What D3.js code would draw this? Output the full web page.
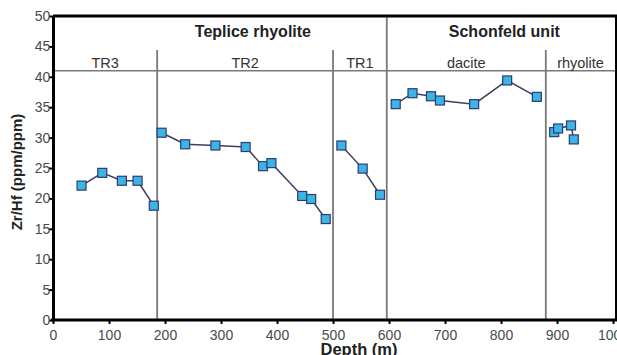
<!DOCTYPE html>
<html>
<head>
<meta charset="utf-8">
<script src="https://cdn.jsdelivr.net/npm/d3@7"></script>
<style>
  html, body { margin: 0; padding: 0; background: #fff; }
  svg { display: block; font-family: "Liberation Sans", Arial, sans-serif; }
</style>
</head>
<body>
<svg id="chart" width="617" height="355"></svg>
<script>
// Zr/Hf ratio vs depth, grouped by unit

const groupTR3 = [[51, 22.1], [88, 24.2], [123, 22.9], [151, 22.9], [180, 18.8]];
const groupTR2 = [[194, 30.8], [236, 28.9], [290, 28.7], [344, 28.45], [375, 25.3],
                  [390, 25.8], [445, 20.4], [461, 19.9], [487, 16.6]];
const groupTR1 = [[515, 28.7], [553, 24.9], [584, 20.6]];
const groupDacite = [[612, 35.5], [642, 37.3], [675, 36.8], [691, 36.1], [752, 35.5],
                     [811, 39.4], [864, 36.7]];
const groupRhyolite = [[895, 30.9], [902, 31.5], [925, 32.0], [930, 29.7]];

const series = [groupTR3, groupTR2, groupTR1, groupDacite, groupRhyolite];

// unit boundaries (depth) and labels
const boundaries = [186, 500, 596, 880];
const subUnits = [
  { label: "TR3", from: 0, to: 186 },
  { label: "TR2", from: 186, to: 500 },
  { label: "TR1", from: 500, to: 596 },
  { label: "dacite", from: 596, to: 880 },
  { label: "rhyolite", from: 880, to: 1004 }
];
const mainUnits = [
  { label: "Teplice rhyolite", at: 357 },
  { label: "Schonfeld unit", at: 806 }
];

const xTicks = [0, 100, 200, 300, 400, 500, 600, 700, 800, 900, 1000];
const yTicks = [0, 5, 10, 15, 20, 25, 30, 35, 40, 45, 50];

const svg = d3.select("#chart");
const pLeft = 53, pRight = 616, pTop = 16, pBottom = 320;

const x = d3.scaleLinear().domain([0, 1000]).range([pLeft, 613]);
const y = d3.scaleLinear().domain([0, 50]).range([pBottom, pTop]);

const grey = "#7d7878";

// header line and separators
svg.append("line")
  .attr("x1", pLeft).attr("x2", pRight)
  .attr("y1", y(41)).attr("y2", y(41))
  .attr("stroke", grey).attr("stroke-width", 1.6);

svg.selectAll("line.sep")
  .data(boundaries)
  .enter().append("line")
    .attr("class", "sep")
    .attr("x1", d => x(d)).attr("x2", d => x(d))
    .attr("y1", d => d === 596 ? pTop : y(44.4))
    .attr("y2", pBottom)
    .attr("stroke", grey)
    .attr("stroke-width", 1.8);

// frame: top + right
svg.append("line")
  .attr("x1", pLeft).attr("x2", pRight + 1)
  .attr("y1", pTop).attr("y2", pTop)
  .attr("stroke", "#000").attr("stroke-width", 3);
svg.append("line")
  .attr("x1", pRight).attr("x2", pRight)
  .attr("y1", pTop).attr("y2", pBottom)
  .attr("stroke", "#000").attr("stroke-width", 2);

// axes
const xAxis = svg.append("g")
  .attr("transform", `translate(0,${pBottom})`)
  .call(d3.axisBottom(x).tickValues(xTicks).tickFormat(d3.format("d"))
    .tickSize(4).tickSizeOuter(0));
const yAxis = svg.append("g")
  .attr("transform", `translate(${pLeft},0)`)
  .call(d3.axisLeft(y).tickValues(yTicks).tickSize(4).tickSizeOuter(0));

[xAxis, yAxis].forEach(a => {
  a.select(".domain").attr("stroke", "#000").attr("stroke-width", 3);
  a.selectAll(".tick line").attr("stroke", "#000").attr("stroke-width", 2);
  a.selectAll(".tick text")
    .attr("fill", "#4a4a4a")
    .attr("font-size", "14px")
    .attr("font-family", "Liberation Sans, Arial, sans-serif");
});
xAxis.select(".domain").attr("d", `M${pLeft - 2},0H${pRight + 1}`);
xAxis.selectAll(".tick text").attr("dy", "0.9em");
yAxis.selectAll(".tick text").attr("x", -4).attr("dx", "0.1em");

// headers
svg.selectAll("text.main")
  .data(mainUnits)
  .enter().append("text")
    .attr("class", "main")
    .attr("x", d => x(d.at))
    .attr("y", 37)
    .attr("text-anchor", "middle")
    .attr("font-size", "16px")
    .attr("font-weight", "bold")
    .attr("fill", "#222")
    .text(d => d.label);

svg.selectAll("text.sub")
  .data(subUnits)
  .enter().append("text")
    .attr("class", "sub")
    .attr("x", d => x((d.from + d.to) / 2))
    .attr("y", 68)
    .attr("text-anchor", "middle")
    .attr("font-size", "14.5px")
    .attr("fill", "#333")
    .text(d => d.label);

// axis titles
svg.append("text")
  .attr("x", 359).attr("y", 355)
  .attr("text-anchor", "middle")
  .attr("font-size", "16.5px").attr("font-weight", "bold")
  .attr("fill", "#222")
  .text("Depth (m)");

svg.append("text")
  .attr("transform", "translate(22,172) rotate(-90)")
  .attr("text-anchor", "middle")
  .attr("font-size", "15px").attr("font-weight", "bold")
  .attr("fill", "#222")
  .text("Zr/Hf (ppm/ppm)");

// lines + markers
const line = d3.line().x(d => x(d[0])).y(d => y(d[1]));

svg.selectAll("path.series")
  .data(series)
  .enter().append("path")
    .attr("class", "series")
    .attr("d", line)
    .attr("fill", "none")
    .attr("stroke", "#3b3f5e")
    .attr("stroke-width", 1.5);

const pts = series.flat();
svg.selectAll("rect.pt")
  .data(pts)
  .enter().append("rect")
    .attr("class", "pt")
    .attr("x", d => x(d[0]) - 4.5)
    .attr("y", d => y(d[1]) - 4.5)
    .attr("width", 9)
    .attr("height", 9)
    .attr("fill", "#3cb4e6")
    .attr("stroke", "#2c3d6e")
    .attr("stroke-width", 1.2);
</script>
</body>
</html>
